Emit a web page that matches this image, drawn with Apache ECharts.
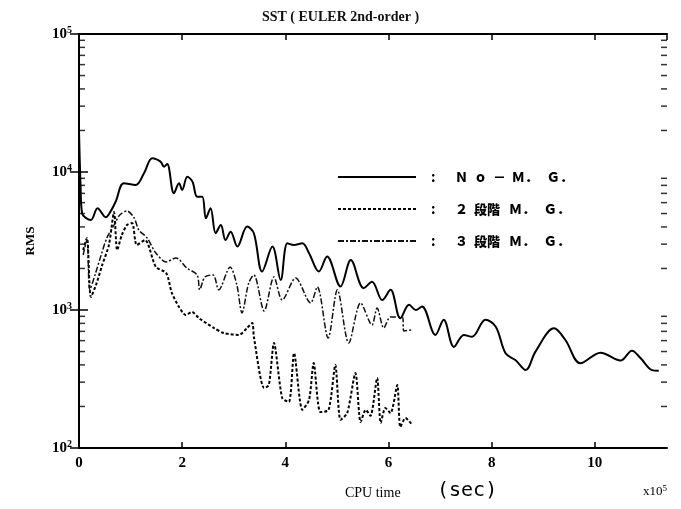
<!DOCTYPE html>
<html><head><meta charset="utf-8">
<script src="https://cdn.jsdelivr.net/npm/echarts@6/dist/echarts.min.js"></script>
<style>html,body{margin:0;padding:0;background:#fff}#c{width:681px;height:509px}</style>
</head><body><div id="c"></div>
<script>
// ---- data (CPU time in units of 1e5 sec, RMS) ----
const xTickLabels = ['0','2','4','6','8','10'];
const yDecades = [100, 1000, 10000, 100000];
const minorMultipliers = [2,3,4,5,6,7,8,9];

const seriesNames = ['Ｎ  ｏ  －  Ｍ．   Ｇ．', '２  段階   Ｍ．   Ｇ．', '３  段階   Ｍ．   Ｇ．'];

const noMG = [
 [0,20000],[0.03,8000],[0.06,5025],[0.23,4490],[0.36,5460],[0.52,4700],[0.61,5160],[0.71,6090],
 [0.87,8280],[1.10,8050],[1.26,9790],[1.42,12570],[1.58,11880],[1.65,10920],[1.71,11430],
 [1.84,7010],[1.94,8280],[2.00,7410],[2.10,9250],[2.20,8510],[2.29,6630],[2.39,6630],
 [2.46,4620],[2.55,5460],[2.65,3600],[2.75,4130],[2.84,3210],[2.94,3690],[3.07,2880],
 [3.26,4020],[3.39,3600],[3.55,1900],[3.75,2880],[3.91,1650],[4.04,3040],[4.17,2960],
 [4.33,3040],[4.46,2580],[4.65,1900],[4.81,2440],[5.07,1480],[5.27,2300],[5.52,1440],
 [5.68,1600],[5.88,1180],[6.04,1400],[6.23,870],[6.40,1090],[6.53,1000],[6.65,1060],
 [6.91,660],[7.07,850],[7.27,540],[7.46,660],[7.62,640],[7.88,850],[8.08,757],[8.27,485],
 [8.46,434],[8.66,367],[8.85,499],[9.21,736],[9.43,606],[9.72,411],[10.11,491],[10.50,430],
 [10.72,507],[10.89,447],[11.11,367],[11.24,363]
];

const mg2 = [
 [0.08,2720],[0.155,3330],[0.23,1240],[0.33,1520],[0.45,2120],[0.58,2960],[0.68,5125],
 [0.74,2720],[0.83,3490],[0.93,4130],[1.03,4270],[1.12,2960],[1.28,3215],[1.49,2050],
 [1.69,1855],[1.80,1330],[1.94,1050],[2.07,920],[2.19,968],[2.33,870],[2.62,740],
 [2.81,680],[3.10,660],[3.26,741],[3.36,806],[3.39,638],[3.59,272],[3.68,286],[3.78,577],
 [3.94,230],[4.07,216],[4.17,488],[4.33,189],[4.46,223],[4.55,413],[4.68,182],[4.84,189],
 [4.97,399],[5.07,160],[5.20,179],[5.36,349],[5.46,154],[5.56,189],[5.65,171],[5.78,321],
 [5.85,152],[5.94,195],[6.04,179],[6.17,286],[6.23,142],[6.33,165],[6.46,147]
];

const mg3 = [
 [0.08,2505],[0.155,3215],[0.21,1400],[0.31,1795],[0.43,2505],[0.54,3330],[0.68,4130],
 [0.79,4880],[0.93,5215],[1.07,4640],[1.16,3800],[1.32,3330],[1.49,2590],[1.69,2230],
 [1.88,2385],[2.09,2015],[2.29,1795],[2.34,1400],[2.44,1735],[2.60,1795],[2.71,1400],
 [2.93,2050],[3.06,1520],[3.16,952],[3.29,1570],[3.39,1795],[3.59,985],[3.78,1735],
 [3.94,1180],[4.20,1705],[4.49,1125],[4.62,1470],[4.83,627],[5.01,1400],[5.23,577],
 [5.46,1125],[5.68,779],[5.78,1035],[5.91,741],[6.04,890],[6.27,890],[6.30,705],[6.46,717]
];

const X_MIN = 0, X_MAX = 11.4, X_INT = 2;

// minor tick positions on the log axis (2..9 x each decade)
const minorVals = [];
yDecades.slice(0, -1).forEach(d => minorMultipliers.forEach(m => minorVals.push(d * m)));

const serif = '"Liberation Serif","DejaVu Serif",serif';
const cjk = '"Noto Sans CJK JP","Noto Sans",sans-serif';

const chart = echarts.init(document.getElementById('c'), null, {renderer: 'canvas'});

const xAxisBase = {
  type: 'value', min: X_MIN, max: X_MAX, interval: X_INT,
  splitLine: {show: false},
  axisLine: {show: true, onZero: false, lineStyle: {color: '#000', width: 2}},
  axisTick: {show: true, inside: true, length: 6, lineStyle: {color: '#000', width: 1.5}}
};
const yAxisBase = {
  type: 'log', logBase: 10, min: 100, max: 100000,
  splitLine: {show: false},
  axisLine: {show: true, lineStyle: {color: '#000', width: 2}},
  axisTick: {show: true, inside: true, length: 9, lineStyle: {color: '#000', width: 1.5}}
};

chart.setOption({
  backgroundColor: '#fff',
  animation: false,
  title: {
    text: 'SST ( EULER 2nd-order )', left: 'center', top: 5,
    textStyle: {fontFamily: serif, fontSize: 14, fontWeight: 'bold', color: '#111'}
  },
  grid: {left: 79, right: 14, top: 34, bottom: 61},
  legend: {
    orient: 'vertical', left: 337, top: 170, padding: 0,
    itemWidth: 78, itemHeight: 12, itemGap: 18,
    itemStyle: {opacity: 0},
    data: seriesNames,
    formatter: '{c|:}{t|{name}}',
    textStyle: {
      rich: {
        c: {fontFamily: cjk, fontSize: 14, fontWeight: 'bold', color: '#000', width: 24, padding: [0,0,0,10]},
        t: {fontFamily: cjk, fontSize: 13, fontWeight: 900, color: '#000'}
      }
    }
  },
  xAxis: [
    Object.assign({}, xAxisBase, {
      position: 'bottom',
      axisLabel: {
        show: true, margin: 8, color: '#000', fontFamily: serif, fontSize: 15, fontWeight: 'bold',
        showMaxLabel: false,
        formatter: v => (Math.abs(v % X_INT) < 1e-9 ? xTickLabels[Math.round(v / X_INT)] : '')
      }
    }),
    Object.assign({}, xAxisBase, {position: 'top', axisLabel: {show: false}})
  ],
  yAxis: [
    Object.assign({}, yAxisBase, {
      position: 'left',
      name: 'RMS', nameLocation: 'middle', nameGap: 42, nameRotate: 90,
      nameTextStyle: {fontFamily: serif, fontSize: 13, fontWeight: 'bold', color: '#000'},
      axisLabel: {
        show: true, margin: 7, color: '#000',
        formatter: v => '{b|10}{s|' + Math.round(Math.log10(v)) + '}',
        rich: {
          b: {fontFamily: serif, fontSize: 15, fontWeight: 'bold', color: '#000'},
          s: {fontFamily: serif, fontSize: 10, fontWeight: 'bold', color: '#000', verticalAlign: 'top', padding: [0, 0, 8, 0]}
        }
      }
    }),
    Object.assign({}, yAxisBase, {position: 'right', axisLabel: {show: false}})
  ],
  series: [
    {
      name: seriesNames[0], type: 'line', data: noMG, xAxisIndex: 0, yAxisIndex: 0,
      symbol: 'none', showSymbol: false, smooth: 0.35,
      lineStyle: {color: '#000', width: 2, type: 'solid'}, itemStyle: {color: '#000'}
    },
    {
      name: seriesNames[1], type: 'line', data: mg2, xAxisIndex: 0, yAxisIndex: 0,
      symbol: 'none', showSymbol: false, smooth: 0.25,
      lineStyle: {color: '#000', width: 2, type: [3, 2]}, itemStyle: {color: '#000'}
    },
    {
      name: seriesNames[2], type: 'line', data: mg3, xAxisIndex: 0, yAxisIndex: 0,
      symbol: 'none', showSymbol: false, smooth: 0.3,
      lineStyle: {color: '#111', width: 1.5, type: [6, 2, 2, 2]}, itemStyle: {color: '#111'}
    },
    {
      name: 'minorLeft', type: 'scatter', silent: true, clip: false,
      data: minorVals.map(v => [X_MIN, v]),
      symbol: 'rect', symbolSize: [6, 1.5], symbolOffset: [3, 0],
      itemStyle: {color: '#000'}
    },
    {
      name: 'minorRight', type: 'scatter', silent: true, clip: false,
      data: minorVals.map(v => [X_MAX, v]),
      symbol: 'rect', symbolSize: [6, 1.5], symbolOffset: [-3, 0],
      itemStyle: {color: '#000'}
    }
  ],
  graphic: [
    {type: 'text', left: 345, top: 486, style: {text: 'CPU time', font: '14px ' + serif, fill: '#000'}},
    {type: 'text', left: 437, top: 481, style: {text: '(sec)', font: '20px "DejaVu Sans Mono","Liberation Mono",monospace', fill: '#000'}},
    {type: 'text', left: 643, top: 484, style: {text: '{a|x10}{s|5}', rich: {
      a: {font: '13px ' + serif, fill: '#000'},
      s: {font: '9px ' + serif, fill: '#000', verticalAlign: 'top', padding: [0,0,6,0]}
    }}}
  ]
});
</script>
</body></html>
